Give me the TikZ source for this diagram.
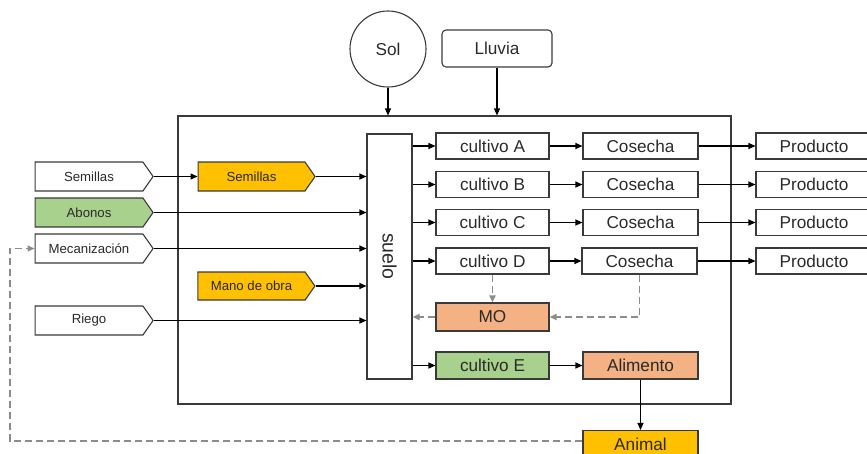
\documentclass[tikz,border=0pt]{standalone}
\usepackage{fontspec}
\setmainfont{Liberation Sans}
\usetikzlibrary{shapes.symbols,arrows.meta,calc}
\definecolor{gold}{HTML}{FFC000}
\definecolor{leaf}{HTML}{A9D18E}
\definecolor{salmon}{HTML}{F4B183}
\definecolor{ink}{HTML}{2A2A2A}
\definecolor{edge}{HTML}{3A3A3A}
\definecolor{dashgray}{HTML}{8C8C8C}
\tikzset{
  base/.style={draw=edge, line width=1.1pt, text=ink, inner sep=0pt},
  chev/.style={base, signal, signal to=east, signal pointer angle=110,
    minimum width=118pt, minimum height=29pt, font=\fontsize{13.2}{15}\selectfont},
  bigfont/.style={font=\fontsize{17.2}{20}\selectfont},
  box/.style={base, rectangle, minimum width=113pt, minimum height=26pt, bigfont},
  wbox/.style={box, minimum width=115pt},
  arr/.style={draw=black, line width=1.1pt, -{Triangle[length=7pt,width=6pt]}},
  darr/.style={draw=dashgray, line width=1.9pt, dash pattern=on 7pt off 4pt,
    -{Triangle[length=7pt,width=6pt]}},
}
\begin{document}
\begin{tikzpicture}[x=1pt,y=-1pt]
\useasboundingbox (0,0) rectangle (867,453);
\begin{scope}
\clip (0,0) rectangle (867,453);
% frame
\node[draw=edge, line width=1.1pt, minimum width=553pt, minimum height=288pt, inner sep=0pt] (frame) at (454.5,260) {};
% top inputs
\node[base, circle, minimum size=76pt, bigfont] (sol) at (388,49) {Sol};
\node[base, rounded corners=4pt, minimum width=110pt, minimum height=37pt, bigfont] (lluvia) at (497,48.5) {Lluvia};
% suelo
\node[base, minimum width=45pt, minimum height=245pt] (suelo) at (389.5,256.5) {};
\node[text=ink, font=\fontsize{19.5}{22}\selectfont, rotate=-90] (suelotxt) at (suelo.center) {suelo};
% left chevrons
\node[chev, fill=white] (semw) at (89,176.5) {Semillas};
\node[chev, fill=leaf] (abonos) at (89,212.5) {Abonos};
\node[chev, fill=white] (mec) at (89,248.5) {Mecanización};
\node[chev, fill=white] (riego) at (89,320.5) {Riego};
\node[chev, fill=gold, minimum width=117pt] (semo) at (251.5,176.5) {Semillas};
\node[chev, fill=gold, minimum width=117pt, minimum height=28pt] (mano) at (251.5,286) {Mano de obra};
% crops
\node[box] (cA) at (492.5,146) {cultivo A};
\node[box] (cB) at (492.5,184.5) {cultivo B};
\node[box] (cC) at (492.5,222.5) {cultivo C};
\node[box] (cD) at (492.5,261) {cultivo D};
\node[wbox] (hA) at (640.5,146) {Cosecha};
\node[wbox] (hB) at (640.5,184.5) {Cosecha};
\node[wbox] (hC) at (640.5,222.5) {Cosecha};
\node[wbox] (hD) at (639.5,261) {Cosecha};
\node[box, minimum width=116pt] (pA) at (814,146) {Producto};
\node[box, minimum width=116pt] (pB) at (814,184.5) {Producto};
\node[box, minimum width=116pt] (pC) at (814,222.5) {Producto};
\node[box, minimum width=116pt] (pD) at (814,261) {Producto};
\node[box, fill=salmon, minimum height=28pt] (mo) at (492.5,317) {MO};
\node[box, fill=leaf, minimum height=27pt] (cE) at (492.5,365.5) {cultivo E};
\node[wbox, fill=salmon, minimum height=27pt] (alim) at (640.5,365.5) {Alimento};
\node[wbox, fill=gold, minimum height=27pt] (animal) at (640.5,444) {Animal};
% top arrows
\draw[arr] (sol.south) -- (sol.south |- frame.north);
\draw[arr] (lluvia.south) -- (lluvia.south |- frame.north);
% left arrows
\draw[arr] (semw.east) -- (semo.west);
\draw[arr] (semo.east) -- (suelo.west |- semo.east);
\draw[arr] (abonos.east) -- (suelo.west |- abonos.east);
\draw[arr] (mec.east) -- (suelo.west |- mec.east);
\draw[arr] (mano.east) -- (suelo.west |- mano.east);
\draw[arr] (riego.east) -- (suelo.west |- riego.east);
% suelo to crops
\foreach \c in {cA,cB,cC,cD,cE}{
  \draw[arr] (suelo.east |- \c.west) -- (\c.west);
}
\draw[arr] (cA) -- (hA);
\draw[arr] (cB) -- (hB);
\draw[arr] (cC) -- (hC);
\draw[arr] (cD) -- (hD);
\draw[arr] (hA) -- (pA);
\draw[arr] (hB) -- (pB);
\draw[arr] (hC) -- (pC);
\draw[arr] (hD) -- (pD);
\draw[arr] (cE) -- (alim);
\draw[arr] (alim) -- (animal);
% dashed
\draw[darr] (cD.south) -- (mo.north);
\draw[darr] (hD.south) |- (mo.east);
\draw[darr] (mo.west) -- (suelo.east |- mo.west);
\coordinate (back) at (10,441);
\draw[darr] (animal.west |- back) -- (back) |- (mec.west);
\end{scope}
\end{tikzpicture}
\end{document}
